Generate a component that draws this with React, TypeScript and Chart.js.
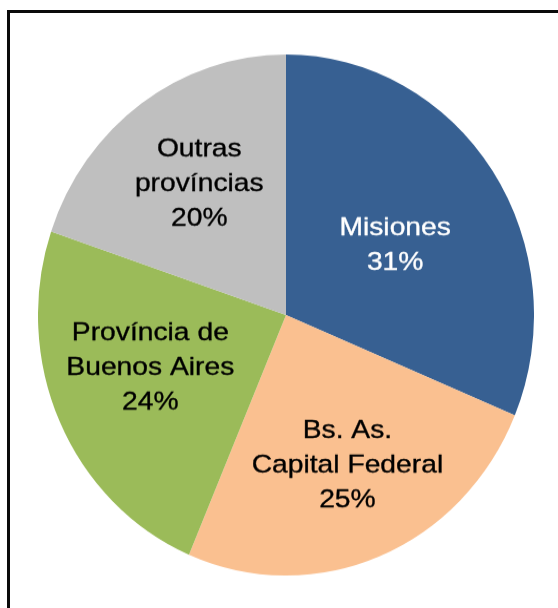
import React, { useEffect, useRef } from "react";
import { Chart, registerables } from "chart.js";

Chart.register(...registerables);

const categories = ["Misiones", "Bs. As. Capital Federal", "Província de Buenos Aires", "Outras províncias"];
const labelLines = [["Misiones"], ["Bs. As.", "Capital Federal"], ["Província de", "Buenos Aires"], ["Outras", "províncias"]];
const shares = [31.3, 25.1, 23.8, 19.8];
const sliceColors = ["#376092", "#FAC090", "#9BBB59", "#BFBFBF"];
const textColors = ["#FFFFFF", "#000000", "#000000", "#000000"];
// label placement style: radial fraction and angle offset (degrees) from slice mid-angle
const labelRadius = [0.52, 0.62, 0.58, 0.62];
const labelAngleOffset = [1.5, -1.4, 4.7, 1.3];

const Y_STRETCH = 260.5 / 248;

const labelPlugin = {
  id: "sliceLabels",
  afterDatasetsDraw(chart: any) {
    const ctx = chart.ctx;
    const meta = chart.getDatasetMeta(0);
    const total = shares.reduce((a, b) => a + b, 0);
    const fontSize = 25.8;
    const lh = 34.7 / Y_STRETCH;
    const capHalf = (fontSize * 0.716) / 2;
    meta.data.forEach((arc: any, i: number) => {
      const p = arc.getProps(["x", "y", "startAngle", "endAngle", "outerRadius"], true);
      const mid = (p.startAngle + p.endAngle) / 2 + (labelAngleOffset[i] * Math.PI) / 180;
      const r = p.outerRadius * labelRadius[i];
      const cx = p.x + Math.cos(mid) * r;
      const cy = p.y + Math.sin(mid) * r;
      const lines = [...labelLines[i], Math.round((shares[i] / total) * 100) + "%"];
      const n = lines.length;
      ctx.save();
      ctx.fillStyle = textColors[i];
      ctx.strokeStyle = textColors[i];
      ctx.lineWidth = 0.35;
      ctx.font = `${fontSize}px "Liberation Sans", Arial, sans-serif`;
      ctx.textAlign = "center";
      ctx.textBaseline = "alphabetic";
      lines.forEach((line, k) => {
        const y = cy + (k - (n - 1) / 2) * lh;
        ctx.save();
        ctx.translate(cx, y);
        ctx.scale(1.095, 1 / Y_STRETCH);
        ctx.fillText(line, 0, capHalf);
        ctx.strokeText(line, 0, capHalf);
        ctx.restore();
      });
      ctx.restore();
    });
  },
};

export default function App() {
  const ref = useRef<HTMLCanvasElement>(null);
  useEffect(() => {
    if (!ref.current) return;
    const chart = new Chart(ref.current, {
      type: "pie",
      data: {
        labels: categories,
        datasets: [
          {
            data: shares,
            backgroundColor: sliceColors,
            borderWidth: 0,
          },
        ],
      },
      options: {
        responsive: false,
        animation: false,
        layout: { padding: 0 },
        plugins: {
          legend: { display: false },
          tooltip: { enabled: false },
        },
      },
      plugins: [labelPlugin],
    });
    return () => chart.destroy();
  }, []);

  return (
    <div style={{ position: "absolute", left: 0, top: 0, width: 558, height: 608, overflow: "hidden", background: "#fff" }}>
      <div
        style={{
          position: "absolute",
          left: 7,
          top: 10,
          width: 551,
          height: 598,
          boxSizing: "border-box",
          borderLeft: "3px solid #0a0a0a",
          borderTop: "3px solid #0a0a0a",
        }}
      />
      <div
        style={{
          position: "absolute",
          left: 38,
          top: 66.5,
          width: 496,
          height: 496,
          transform: `scaleY(${Y_STRETCH})`,
          transformOrigin: "50% 50%",
        }}
      >
        <canvas ref={ref} width={496} height={496} style={{ width: 496, height: 496, display: "block" }} />
      </div>
    </div>
  );
}
